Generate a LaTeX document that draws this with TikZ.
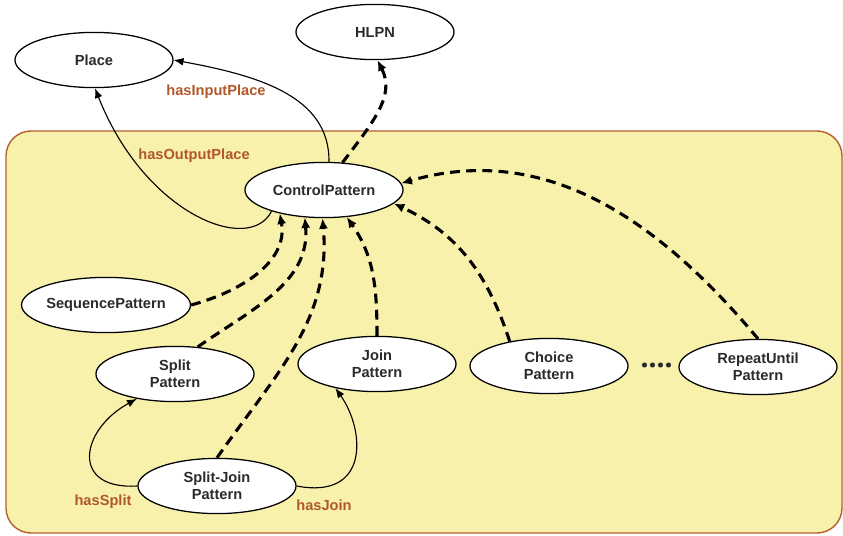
\documentclass[tikz,border=0pt]{standalone}
\usepackage{fontspec}
\setmainfont{Liberation Sans}
\usetikzlibrary{shapes.geometric,arrows.meta}

\definecolor{panelfill}{HTML}{F8F1AB}
\definecolor{panelline}{HTML}{B5602F}
\definecolor{relcolor}{HTML}{B0582A}
\definecolor{textcolor}{HTML}{2B2B2B}

\begin{document}
\begin{tikzpicture}[x=0.025cm, y=0.025cm,
    concept/.style={ellipse, draw=black, line width=0.9pt, fill=white,
        minimum width=3.95cm, minimum height=1.38cm, inner sep=0pt,
        align=center, text=textcolor, font=\fontsize{10.4}{12}\selectfont\bfseries},
    relname/.style={text=relcolor, font=\fontsize{10.4}{12}\selectfont\bfseries},
    isa/.style={-{Latex[length=7.5pt,width=6.5pt]}, line width=2.2pt, dash pattern=on 7pt off 4.5pt},
    rel/.style={-{Latex[length=7pt,width=5.5pt]}, line width=0.8pt}]

    % Page size
    \useasboundingbox (0,0) rectangle (843,535);

    % Pattern panel
    \draw[panelline, fill=panelfill, line width=1pt, rounded corners=0.625cm] (6,2) rectangle (842,404);

    % ==========================================
    % Concepts
    % ==========================================
    \node[concept] (place) at (94,475) {Place};
    \node[concept] (hlpn) at (375,503) {HLPN};
    \node[concept] (ctrl) at (324,345) {ControlPattern};

    \node[concept] (seq) at (106,230) {SequencePattern};
    \node[concept] (split) at (175,161) {Split\\Pattern};
    \node[concept] (join) at (377,171) {Join\\Pattern};
    \node[concept] (choice) at (549,169) {Choice\\Pattern};
    \node[concept] (repeat) at (758,168) {RepeatUntil\\Pattern};
    \node[concept] (splitjoin) at (217,49) {Split-Join\\Pattern};

    % Dots between Choice and RepeatUntil
    \foreach \x in {644.5,652.5,660.5,668.5}
        \fill[textcolor] (\x,170) circle (1.8pt);

    % ==========================================
    % Relations (solid)
    % ==========================================
    \draw[rel] (ctrl.80) .. controls (330,440) and (255,460) .. (place.east);
    \draw[rel] (ctrl.202) .. controls (250,280) and (145,320) .. (place.-88);
    \draw[rel] (splitjoin.west) .. controls (70,45) and (80,105) .. (split.213);
    \draw[rel] (splitjoin.east) .. controls (370,35) and (365,105) .. (join.210);

    \node[relname] (inlbl) at (216,443) {hasInputPlace};
    \node[relname] (outlbl) at (194,379) {hasOutputPlace};
    \node[relname] (splitlbl) at (103,33) {hasSplit};
    \node[relname] (joinlbl) at (324,30) {hasJoin};

    % ==========================================
    % Subclass links (dashed)
    % ==========================================
    \draw[isa] (ctrl.56) .. controls (375,415) and (395,440) .. (hlpn.-85);
    \draw[isa] (seq.east) to[out=15, in=-80] (ctrl.208);
    \draw[isa] (split.50) to[out=35, in=-85] (ctrl.235);
    \draw[isa] (splitjoin.north) to[out=55, in=-85] (ctrl.267);
    \draw[isa] (join.north) to[out=90, in=-55] (ctrl.-50);
    \draw[isa] (choice.148) to[out=108, in=-25] (ctrl.-11);
    \draw[isa] (repeat.north) to[out=130, in=16] (ctrl.5);

\end{tikzpicture}
\end{document}
